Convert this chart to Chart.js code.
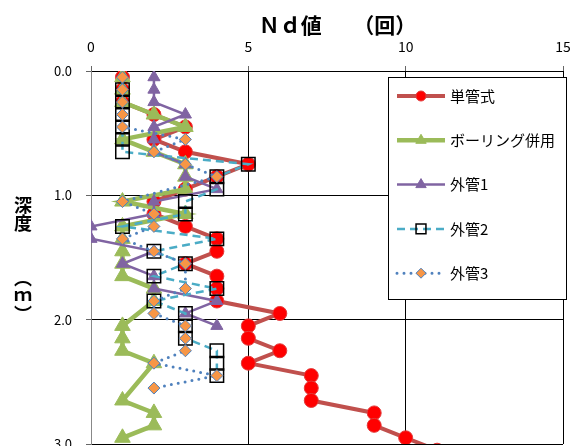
<!DOCTYPE html>
<html><head><meta charset="utf-8">
<script src="https://cdn.jsdelivr.net/npm/chart.js@4.4.1/dist/chart.umd.min.js"></script>
<style>
html,body{margin:0;padding:0;background:#fff;overflow:hidden;width:576px;height:446px;}
#wrap{position:relative;width:576px;height:480px;}
.yt{position:absolute;left:14px;writing-mode:vertical-rl;text-orientation:mixed;font:bold 18px "Noto Sans CJK JP";line-height:18px;color:#000;margin:0;}
</style></head><body>
<div id="wrap"><canvas id="c" width="576" height="480"></canvas><div class="yt" id="ytitle" style="top:196px">深度</div><div class="yt" style="top:269px">（ｍ）</div></div>
<script>
// depth (m) of each reading
const depths = [0.05,0.15,0.25,0.35,0.45,0.55,0.65,0.75,0.85,0.95,1.05,1.15,1.25,1.35,1.45,1.55,1.65,1.75,1.85,1.95,2.05,2.15,2.25,2.35,2.45,2.55,2.65,2.75,2.85,2.95,3.05];
// Nd values per series (null = no reading)
const tankan = [1,1,1,2,3,2,3,5,4,3,2,2,3,4,4,3,4,4,4,6,5,5,6,5,7,7,7,9,9,10,11];
const boring = [1,1,1,2,3,1,2,3,3,3,1,3,1,1,1,1,1,2,2,null,1,1,1,2,null,null,1,2,2,1,null];
const soto1  = [2,2,2,3,2,2,2,3,3,4,2,2,0,0,2,1,2,2,4,3,4,null,null,null,null,null,null,null,null,null,null];
const soto2  = [null,1,1,1,1,1,1,5,4,4,3,3,1,4,2,3,2,4,2,3,3,3,4,4,4,null,null,null,null,null,null];
const soto3  = [1,1,1,1,1,3,2,3,4,null,1,2,2,1,2,3,null,3,2,2,3,3,3,2,4,2,null,null,null,null,null];
const seriesNames = ['単管式','ボーリング併用','外管1','外管2','外管3'];
const xTicks = [0,5,10,15];
const yTicks = [0,1,2,3];
const xTitle = '　Ｎｄ値　　（回）';

const mk = arr => depths.map((d,i)=>({x:arr[i], y:d})).filter(p=>p.x!==null);
const legendRadius = [5,6,6,7,5];

const boxLegend = {
  id:'boxLegend',
  afterDraw(chart){
    const ctx = chart.ctx;
    const bx=388, by=77, bw=178, bh=222;
    ctx.save();
    ctx.fillStyle='#fff'; ctx.fillRect(bx,by,bw,bh);
    ctx.strokeStyle='#000'; ctx.lineWidth=1; ctx.strokeRect(bx+0.5,by+0.5,bw,bh);
    chart.data.datasets.forEach((ds,i)=>{
      const y = 96 + i*44.3;
      ctx.save();
      ctx.strokeStyle=ds.borderColor; ctx.lineWidth=ds.borderWidth;
      ctx.setLineDash(ds.borderDash||[]); ctx.lineCap=ds.borderCapStyle||'butt';
      ctx.beginPath(); ctx.moveTo(397,y); ctx.lineTo(445,y); ctx.stroke();
      ctx.restore();
      ctx.save();
      ctx.fillStyle=ds.pointBackgroundColor; ctx.strokeStyle=ds.pointBorderColor; ctx.lineWidth=ds.pointBorderWidth;
      Chart.helpers.drawPoint(ctx,{pointStyle:ds.pointStyle,radius:legendRadius[i],borderWidth:ds.pointBorderWidth,rotation:0},421,y);
      ctx.restore();
      ctx.fillStyle='#000'; ctx.font='15px "Noto Sans CJK JP"'; ctx.textBaseline='middle'; ctx.textAlign='left';
      ctx.fillText(ds.label,450,y);
    });
    ctx.restore();
  }
};

new Chart(document.getElementById('c'),{
  type:'line',
  data:{datasets:[
    {label:seriesNames[0],data:mk(tankan),borderColor:'#C0504D',borderWidth:4,pointStyle:'circle',pointRadius:7,pointBackgroundColor:'#FF0000',pointBorderColor:'#E23B3B',pointBorderWidth:1,order:5},
    {label:seriesNames[1],data:mk(boring),borderColor:'#9BBB59',borderWidth:4.5,pointStyle:'triangle',pointRadius:9,pointBackgroundColor:'#9BBB59',pointBorderColor:'#9BBB59',pointBorderWidth:1,order:4},
    {label:seriesNames[2],data:mk(soto1),borderColor:'#8064A2',borderWidth:2.5,pointStyle:'triangle',pointRadius:7,pointBackgroundColor:'#8064A2',pointBorderColor:'#8064A2',pointBorderWidth:1,order:3},
    {label:seriesNames[3],data:mk(soto2),borderColor:'#4BACC6',borderWidth:2.5,borderDash:[8,5],pointStyle:'rect',pointRadius:9.5,pointBackgroundColor:'rgba(0,0,0,0)',pointBorderColor:'#000',pointBorderWidth:1.5,order:2},
    {label:seriesNames[4],data:mk(soto3),borderColor:'#4F81BD',borderWidth:3,borderDash:[0,7],borderCapStyle:'round',pointStyle:'rectRot',pointRadius:6,pointBackgroundColor:'#F79646',pointBorderColor:'#4F81BD',pointBorderWidth:1,order:1}
  ]},
  options:{
    responsive:false,animation:false,
    layout:{padding:{left:0,right:13,top:0,bottom:36}},
    plugins:{legend:{display:false},tooltip:{enabled:false}},
    elements:{line:{tension:0,fill:false}},
    scales:{
      x:{type:'linear',position:'top',min:0,max:15,
        afterBuildTicks:s=>{s.ticks=xTicks.map(v=>({value:v}));},
        ticks:{padding:11,color:'#000',font:{family:'"Noto Sans CJK JP"',size:14}},
        grid:{color:c=>c.tick&&c.tick.value===0?'#888':'#000',lineWidth:1,tickLength:5,tickColor:'#666'},
        border:{display:true,color:'#000'},
        title:{display:true,text:xTitle,color:'#000',font:{family:'"Noto Sans CJK JP"',size:21,weight:'bold'},padding:{top:12,bottom:0}},
        afterFit:s=>{s.height=71;s.paddingLeft=0;s.paddingRight=0;}
      },
      y:{type:'linear',reverse:true,min:0,max:3,
        afterBuildTicks:s=>{s.ticks=yTicks.map(v=>({value:v}));},
        ticks:{padding:14,color:'#000',font:{family:'"Noto Sans CJK JP"',size:13},callback:v=>Number(v).toFixed(1)},
        grid:{color:'#000',lineWidth:1,tickLength:5,tickColor:'#666'},
        border:{display:true,color:'#888'},
        afterFit:s=>{s.width=91;s.paddingTop=0;s.paddingBottom=0;}
      }
    }
  },
  plugins:[boxLegend]
});
</script>
</body></html>
